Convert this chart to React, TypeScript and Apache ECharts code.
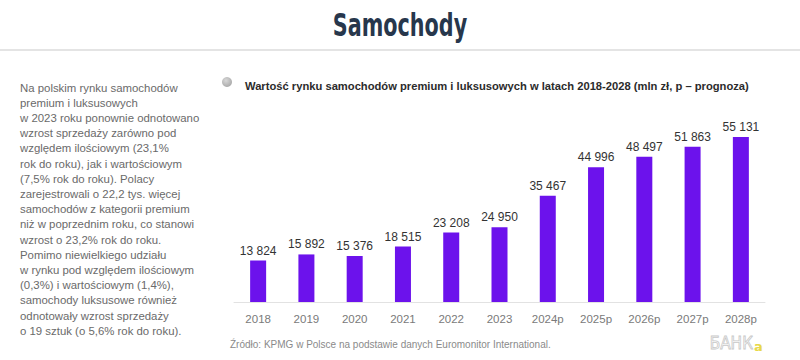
import React, { useEffect, useRef } from "react";
import * as echarts from "echarts";

const categories = ["2018", "2019", "2020", "2021", "2022", "2023", "2024p", "2025p", "2026p", "2027p", "2028p"];
const values = [13824, 15892, 15376, 18515, 23208, 24950, 35467, 44996, 48497, 51863, 55131];
const paragraphLines = [
  "Na polskim rynku samochodów",
  "premium i luksusowych",
  "w 2023 roku ponownie odnotowano",
  "wzrost sprzedaży zarówno pod",
  "względem ilościowym (23,1%",
  "rok do roku), jak i wartościowym",
  "(7,5% rok do roku). Polacy",
  "zarejestrowali o 22,2 tys. więcej",
  "samochodów z kategorii premium",
  "niż w poprzednim roku, co stanowi",
  "wzrost o 23,2% rok do roku.",
  "Pomimo niewielkiego udziału",
  "w rynku pod względem ilościowym",
  "(0,3%) i wartościowym (1,4%),",
  "samochody luksusowe również",
  "odnotowały wzrost sprzedaży",
  "o 19 sztuk (o 5,6% rok do roku).",
];
const pageTitle = "Samochody";
const chartTitle = "Wartość rynku samochodów premium i luksusowych w latach 2018-2028 (mln zł, p – prognoza)";
const sourceNote = "Źródło: KPMG w Polsce na podstawie danych Euromonitor International.";

const fmt = (v: number) => {
  const s = String(v);
  return s.length > 3 ? s.slice(0, s.length - 3) + " " + s.slice(s.length - 3) : s;
};

export default function App() {
  const ref = useRef<HTMLDivElement>(null);
  useEffect(() => {
    if (!ref.current) return;
    const chart = echarts.init(ref.current, null, { renderer: "svg" });
    const sans = "Liberation Sans, Arial, sans-serif";
    chart.setOption({
      animation: false,
      backgroundColor: "#ffffff",
      grid: { left: 234, right: 35, top: 122.4, bottom: 58 },
      xAxis: {
        type: "category",
        data: categories,
        axisLine: { lineStyle: { color: "#e2e2e2", width: 1 } },
        axisTick: { show: false },
        axisLabel: { color: "#7a7a7a", fontSize: 11.5, fontFamily: sans, margin: 11 },
      },
      yAxis: { type: "value", min: 0, max: 60000, show: false, splitLine: { show: false } },
      series: [
        {
          type: "bar",
          data: values,
          barWidth: 16,
          itemStyle: { color: "#6c12ec" },
          label: {
            show: true,
            position: "top",
            distance: 4,
            color: "#333333",
            fontSize: 12,
            fontFamily: sans,
            formatter: (p: any) => fmt(p.value),
          },
        },
      ],
      graphic: [
        {
          type: "text",
          x: 400,
          y: 25,
          scaleX: 0.72,
          style: {
            text: pageTitle,
            font: "bold 32px 'DejaVu Sans Condensed', 'DejaVu Sans', sans-serif",
            fill: "#27374c",
            align: "center",
            verticalAlign: "middle",
          },
        },
        {
          type: "rect",
          shape: { x: 0, y: 49, width: 800, height: 2 },
          style: { fill: "#e4e4e4" },
        },
        {
          type: "text",
          x: 20,
          y: 80,
          style: {
            text: paragraphLines.join("\n"),
            font: "11.4px " + sans,
            lineHeight: 15.2,
            fill: "#6a6a6a",
          },
        },
        {
          type: "circle",
          shape: { cx: 227, cy: 82, r: 5 },
          style: {
            fill: new echarts.graphic.RadialGradient(0.4, 0.35, 0.7, [
              { offset: 0, color: "#d8d8d8" },
              { offset: 1, color: "#a8a8a8" },
            ]),
          },
        },
        {
          type: "text",
          x: 245,
          y: 86,
          style: {
            text: chartTitle,
            font: "bold 11.2px " + sans,
            fill: "#2b2b2b",
            verticalAlign: "middle",
          },
        },
        {
          type: "text",
          x: 230,
          y: 344,
          style: {
            text: sourceNote,
            font: "10px " + sans,
            fill: "#8a8a8a",
            verticalAlign: "middle",
          },
        },
        {
          type: "text",
          x: 753,
          y: 343,
          style: {
            text: "БАНК",
            font: "17px 'DejaVu Sans Condensed', sans-serif",
            fill: "none",
            stroke: "#c8c8c8",
            lineWidth: 0.8,
            align: "right",
            verticalAlign: "middle",
          },
        },
        {
          type: "text",
          x: 754,
          y: 346,
          style: {
            text: "а",
            font: "bold 13px 'DejaVu Sans', sans-serif",
            fill: "#e8d84a",
            verticalAlign: "middle",
          },
        },
      ],
    });
    return () => chart.dispose();
  }, []);
  return <div ref={ref} style={{ position: "absolute", left: 0, top: 0, width: 800, height: 360 }} />;
}
